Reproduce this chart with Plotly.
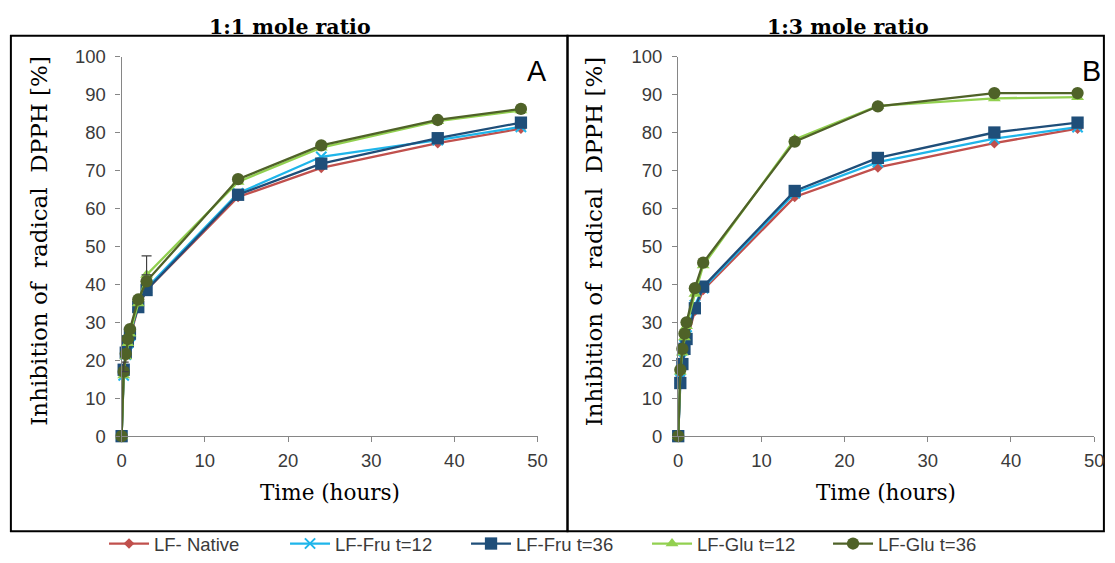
import plotly.graph_objects as go

# ---- data ----
time_h = [0, 0.25, 0.5, 0.75, 1, 2, 3, 14, 24, 38, 48]
series_names = ["LF- Native", "LF-Fru t=12", "LF-Fru t=36", "LF-Glu t=12", "LF-Glu t=36"]

# Panel A: 1:1 mole ratio
a_native = [0, 16.5, 21.0, 24.0, 26.0, 34.0, 38.5, 63.0, 70.7, 77.2, 81.0]
a_fru12  = [0, 16.0, 21.5, 24.5, 26.5, 34.5, 39.0, 64.0, 73.6, 78.0, 81.5]
a_fru36  = [0, 17.5, 22.0, 25.0, 27.0, 34.0, 38.5, 63.6, 71.8, 78.5, 82.6]
a_glu12  = [0, 16.0, 21.0, 24.5, 27.0, 35.0, 42.5, 67.0, 76.0, 83.0, 85.8]
a_glu36  = [0, 17.0, 21.7, 25.6, 28.2, 36.0, 40.8, 67.7, 76.6, 83.3, 86.2]

# Panel B: 1:3 mole ratio
b_native = [0, 15.5, 20.0, 23.0, 25.0, 33.0, 38.5, 63.0, 70.8, 77.2, 81.0]
b_fru12  = [0, 15.0, 20.5, 24.0, 26.5, 34.5, 39.0, 64.0, 72.2, 78.4, 81.4]
b_fru36  = [0, 14.0, 19.0, 23.0, 25.6, 33.7, 39.4, 64.6, 73.3, 80.0, 82.6]
b_glu12  = [0, 17.0, 22.0, 26.0, 29.0, 37.5, 45.0, 78.2, 87.0, 89.0, 89.3]
b_glu36  = [0, 17.5, 23.0, 27.0, 30.0, 39.0, 45.7, 77.6, 86.9, 90.4, 90.4]

# error bars visible in panel A
err_x = [0.25, 3]
err_y = [17.0, 42.5]
err_up = [2.5, 5.0]

panel_titles = ["1:1 mole ratio", "1:3 mole ratio"]
panel_letters = ["A", "B"]
x_ticks = [0, 10, 20, 30, 40, 50]
y_ticks = [0, 10, 20, 30, 40, 50, 60, 70, 80, 90, 100]
x_title = "Time (hours)"
y_title = "Inhibition of\u00a0\u00a0radical\u00a0\u00a0DPPH [%]"

# ---- styles ----
colors = ["#C0504D", "#1FB5EA", "#1F4E79", "#92D050", "#4F6228"]
symbols = ["diamond", "x-thin", "square", "triangle-up", "circle"]
msizes = [8, 10, 12, 11, 12]

W, H = 1115, 563
# the photographed page is slightly inset and scaled; place items so they land on target pixels
SX, AX = 0.989, 4.1
SY, AY = 0.966, 9.0
FS = 1.0 / 0.975

def fx(p):
    return ((p - AX) / SX) / W

def fy(p):
    return 1 - ((p - AY) / SY) / H

fig = go.Figure()

panels = [
    (["x", "y"], [a_native, a_fru12, a_fru36, a_glu12, a_glu36]),
    (["x2", "y2"], [b_native, b_fru12, b_fru36, b_glu12, b_glu36]),
]

for pi, (ax, data) in enumerate(panels):
    for si, ys in enumerate(data):
        mk = dict(color=colors[si], size=msizes[si] * FS, symbol=symbols[si])
        if symbols[si] == "x-thin":
            mk["line"] = dict(color=colors[si], width=2)
        fig.add_trace(go.Scatter(
            x=time_h, y=ys, mode="lines+markers", name=series_names[si],
            line=dict(color=colors[si], width=2.3), marker=mk,
            xaxis=ax[0], yaxis=ax[1], showlegend=(pi == 0), cliponaxis=False,
        ))
    if pi == 0:
        fig.add_trace(go.Scatter(
            x=err_x, y=err_y, mode="markers", marker=dict(color="rgba(0,0,0,0)", size=1),
            error_y=dict(type="data", symmetric=False, array=err_up, arrayminus=[0] * len(err_up),
                         color="#404040", thickness=1.2, width=5),
            xaxis="x", yaxis="y", showlegend=False, hoverinfo="skip",
        ))

tickfont = dict(family="Liberation Sans, Arial, sans-serif", size=18 * FS, color="#3A3A3A")
axis_common = dict(
    showgrid=False, zeroline=False, showline=True, linecolor="#868686", linewidth=1.3,
    ticks="outside", ticklen=5, tickcolor="#868686", tickfont=tickfont,
)

fig.update_layout(
    width=W, height=H,
    margin=dict(l=0, r=0, t=0, b=0),
    paper_bgcolor="white", plot_bgcolor="white",
    xaxis=dict(domain=[fx(121), fx(538)], range=[0, 50], tickvals=x_ticks,
               anchor="y", ticklabelstandoff=3, **axis_common),
    yaxis=dict(domain=[fy(438), fy(55)], range=[0, 100], tickvals=y_ticks,
               anchor="x", ticklabelstandoff=6, **axis_common),
    xaxis2=dict(domain=[fx(679), fx(1096)], range=[0, 50], tickvals=x_ticks,
                anchor="y2", ticklabelstandoff=3, **axis_common),
    yaxis2=dict(domain=[fy(438), fy(55)], range=[0, 100], tickvals=y_ticks,
                anchor="x2", ticklabelstandoff=6, **axis_common),
    legend=dict(orientation="h", x=fx(557), xanchor="center", y=fy(547), yanchor="middle",
                font=dict(family="Liberation Sans, Arial, sans-serif", size=18.5, color="#3A3A3A"),
                itemwidth=40, entrywidth=126, bgcolor="rgba(0,0,0,0)"),
    showlegend=True,
)

# panel borders
for (x0, x1) in [(10, 568), (568, 1106)]:
    fig.add_shape(type="rect", xref="paper", yref="paper",
                  x0=fx(x0), x1=min(fx(x1), 0.999), y0=fy(534), y1=fy(34),
                  line=dict(color="black", width=2), fillcolor="rgba(0,0,0,0)", layer="below")

serif = "DejaVu Serif, Liberation Serif, serif"
centers_x = [(121 + 538) / 2, (679 + 1096) / 2]
title_x = [290, 849]
ylab_x = [38, 594]
letter_x = [537, 1093]
for i in range(2):
    fig.add_annotation(text="<b>" + panel_titles[i] + "</b>", xref="paper", yref="paper",
                       x=fx(title_x[i]), y=fy(25), showarrow=False,
                       font=dict(family=serif, size=20 * FS, color="black"),
                       xanchor="center", yanchor="middle")
    fig.add_annotation(text=x_title, xref="paper", yref="paper",
                       x=fx(centers_x[i]), y=fy(495), showarrow=False,
                       font=dict(family=serif, size=21 * FS, color="black"),
                       xanchor="center", yanchor="middle")
    fig.add_annotation(text=y_title, xref="paper", yref="paper",
                       x=fx(ylab_x[i]), y=fy(241), showarrow=False, textangle=-90,
                       font=dict(family=serif, size=23, color="black"),
                       xanchor="center", yanchor="middle")
    fig.add_annotation(text=panel_letters[i], xref="paper", yref="paper",
                       x=fx(letter_x[i]), y=fy(70), showarrow=False,
                       font=dict(family="Liberation Sans, Arial, sans-serif", size=28 * FS, color="black"),
                       xanchor="center", yanchor="middle")

fig.write_html("out.html", config=dict(displayModeBar=False),
               post_script="document.body.style.margin='0';")
